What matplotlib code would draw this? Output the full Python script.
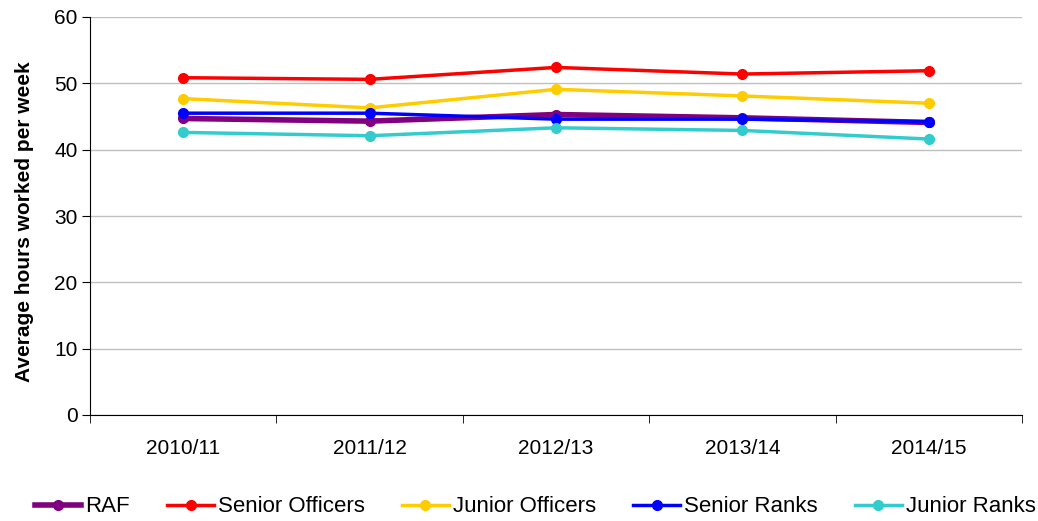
import matplotlib
matplotlib.use("Agg")
import matplotlib.pyplot as plt
import numpy as np

plt.rcParams['font.family'] = ['Liberation Sans', 'DejaVu Sans']

years = ["2010/11", "2011/12", "2012/13", "2013/14", "2014/15"]
raf = [44.7, 44.3, 45.3, 44.8, 44.1]
senior_officers = [50.85, 50.6, 52.4, 51.4, 51.9]
junior_officers = [47.7, 46.3, 49.1, 48.1, 47.0]
senior_ranks = [45.5, 45.5, 44.6, 44.6, 44.2]
junior_ranks = [42.6, 42.1, 43.3, 42.9, 41.6]

series = [
    ("RAF", raf, "#800080", 4.0),
    ("Senior Officers", senior_officers, "#FF0000", 2.5),
    ("Junior Officers", junior_officers, "#FFCC00", 2.5),
    ("Senior Ranks", senior_ranks, "#0000FF", 2.5),
    ("Junior Ranks", junior_ranks, "#33CCCC", 2.5),
]

fig = plt.figure(figsize=(10.38, 5.21), dpi=100)
ax = fig.add_axes([90/1038, 1-415/521, 932/1038, 398/521])

x = np.arange(len(years))
for name, vals, col, lw in series:
    ax.plot(x, vals, color=col, lw=lw, marker='o', ms=7, label=name)

ax.set_xlim(-0.5, len(years) - 0.5)
ax.set_ylim(0, 60)
ax.set_yticks(range(0, 61, 10))
ax.set_xticks(x)
ax.set_xticklabels(years)
ax.set_xticks(np.arange(-0.5, len(years), 1), minor=True)
ax.tick_params(axis='x', which='major', length=0, labelsize=15, pad=17)
ax.tick_params(axis='x', which='minor', length=6, direction='out')
ax.tick_params(axis='y', length=6, direction='out', labelsize=15, pad=3)
ax.yaxis.grid(True, color='#C0C0C0', lw=1)
ax.set_axisbelow(True)
for s in ['top', 'right']:
    ax.spines[s].set_visible(False)
ax.spines['left'].set_color('black')
ax.spines['bottom'].set_color('black')
ax.set_ylabel("Average hours worked per week", fontsize=15, fontweight='bold')
ax.yaxis.set_label_coords(-0.06, 0.485)

fig.legend(loc='center', bbox_to_anchor=(535/1038, 1-507/521), ncol=5, frameon=False,
           fontsize=16, handlelength=2.1, handletextpad=0.18, columnspacing=1.68)

fig.savefig("out.png", dpi=100)
